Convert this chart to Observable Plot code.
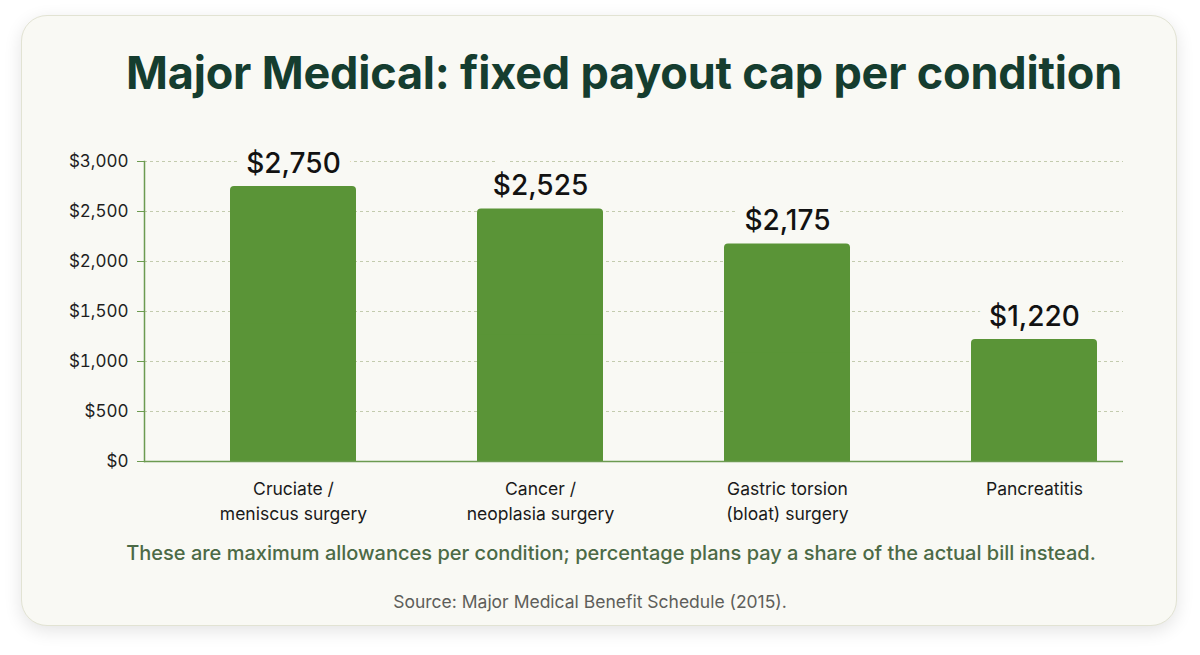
<!DOCTYPE html>
<html>
<head>
<meta charset="utf-8">
<script src="https://cdn.jsdelivr.net/npm/d3@7"></script>
<script src="https://cdn.jsdelivr.net/npm/@observablehq/plot@0.6"></script>
<style>
  html, body { margin: 0; padding: 0; background: #ffffff; }
  body { width: 1200px; height: 655px; position: relative; overflow: hidden; font-family: Inter, "Noto Sans", sans-serif; }
  #card {
    position: absolute; left: 21px; top: 15px; width: 1156px; height: 611px;
    box-sizing: border-box; border-radius: 26px; background: #f9f9f4;
    border: 1px solid #e2e3d3; box-shadow: 0 5px 18px rgba(0, 0, 0, 0.11);
  }
  #title {
    position: absolute; left: 0; width: 1248px; top: 46px; text-align: center;
    font-size: 45px; line-height: 54px; font-weight: 700; color: #153d2f; letter-spacing: -0.2px;
  }
  #chart { position: absolute; left: 0; top: 120px; }
  #note {
    position: absolute; left: 0; width: 1222px; top: 541px; text-align: center;
    font-size: 20px; line-height: 24px; font-weight: 500; color: #4c6a46;
  }
  #source {
    position: absolute; left: 0; width: 1180px; top: 592px; text-align: center;
    font-size: 17.5px; line-height: 20px; font-weight: 400; color: #5e5e5a;
  }
</style>
</head>
<body>
<div id="card"></div>
<div id="title">Major Medical: fixed payout cap per condition</div>
<div id="chart"></div>
<div id="note">These are maximum allowances per condition; percentage plans pay a share of the actual bill instead.</div>
<div id="source">Source: Major Medical Benefit Schedule (2015).</div>
<script>
// Conditions covered by the fixed-cap schedule (line breaks used in axis labels)
const conditions = [
  "Cruciate /\nmeniscus surgery",
  "Cancer /\nneoplasia surgery",
  "Gastric torsion\n(bloat) surgery",
  "Pancreatitis"
];
// Maximum payout per condition, in dollars
const payouts = [2750, 2525, 2175, 1220];
// Y axis tick values
const yTicks = [0, 500, 1000, 1500, 2000, 2500, 3000];

const rows = conditions.map((condition, i) => ({ condition, payout: payouts[i] }));

const money = d => "$" + d3.format(",")(d);
const green = "#5a9437";
const axisGreen = "#6c9b50";
const paper = "#f9f9f4";

const chart = Plot.plot({
  width: 1200,
  height: 410,
  marginTop: 41,
  marginBottom: 69,
  marginLeft: 144,
  marginRight: 77,
  style: { background: "transparent", fontFamily: "Inter, 'Noto Sans', sans-serif", overflow: "visible" },
  x: { domain: conditions, range: [229, 1097], paddingInner: 0.49, paddingOuter: 0, label: null },
  y: { domain: [0, 3000], label: null },
  marks: [
    Plot.gridY(yTicks, { stroke: "#c3cbae", strokeOpacity: 1, strokeDasharray: "3,3" }),
    // value labels first, so their paper-coloured halo only breaks the gridlines
    Plot.text(rows, {
      x: "condition", y: "payout", text: d => money(d.payout),
      dy: -14, lineAnchor: "bottom", fontSize: 28, fontWeight: 500, fill: "#121212",
      stroke: paper, strokeWidth: 22, strokeLinejoin: "round"
    }),
    // rounded-top bars: rounded rect plus a square lower half
    Plot.barY(rows, { x: "condition", y: "payout", fill: green, rx: 4 }),
    Plot.barY(rows, { x: "condition", y1: 0, y2: d => d.payout / 2, fill: green }),
    Plot.frame({ anchor: "left", stroke: axisGreen, strokeWidth: 1.5 }),
    Plot.ruleY([0], { stroke: axisGreen, strokeWidth: 1.5 }),
    Plot.axisY(yTicks, {
      tickFormat: money, tickSize: 7, tickPadding: 9, stroke: axisGreen,
      fill: "#1e1e1e", fontSize: 17, label: null
    }),
    Plot.axisX({
      tickSize: 0, tickPadding: 16, fill: "#1a1a1a", fontSize: 17.5,
      lineHeight: 1.43, label: null
    })
  ]
});

document.getElementById("chart").appendChild(chart);
</script>
</body>
</html>
